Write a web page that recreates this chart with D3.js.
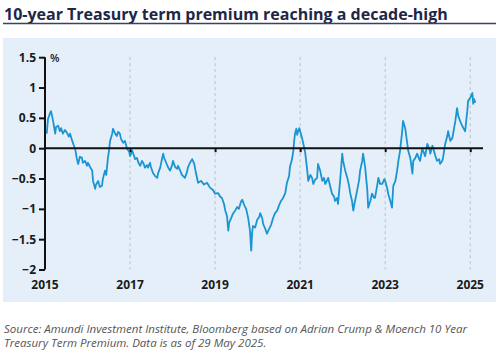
<!DOCTYPE html>
<html>
<head>
<meta charset="utf-8">
<script src="https://cdn.jsdelivr.net/npm/d3@7"></script>
<style>
  body { margin: 0; background: #fff; }
  svg { display: block; font-family: "Open Sans", "Noto Sans", sans-serif; }
</style>
</head>
<body>
<div id="chart"></div>
<script>
// decimal years
const years = [
  2015.04, 2015.07, 2015.12, 2015.14, 2015.16, 2015.19, 2015.24, 2015.26, 2015.31, 2015.35,
  2015.38, 2015.42, 2015.47, 2015.52, 2015.56, 2015.59, 2015.64, 2015.68, 2015.71, 2015.75,
  2015.78, 2015.82, 2015.87, 2015.89, 2015.94, 2015.99, 2016.01, 2016.06, 2016.11, 2016.13,
  2016.18, 2016.20, 2016.25, 2016.29, 2016.34, 2016.36, 2016.41, 2016.44, 2016.48, 2016.51,
  2016.53, 2016.58, 2016.60, 2016.65, 2016.69, 2016.72, 2016.76, 2016.79, 2016.84, 2016.88,
  2016.93, 2016.98, 2017.00, 2017.05, 2017.07, 2017.12, 2017.16, 2017.21, 2017.24, 2017.28,
  2017.31, 2017.35, 2017.40, 2017.42, 2017.47, 2017.49, 2017.54, 2017.59, 2017.64, 2017.66,
  2017.71, 2017.75, 2017.78, 2017.80, 2017.85, 2017.89, 2017.94, 2017.99, 2018.01, 2018.06,
  2018.11, 2018.13, 2018.18, 2018.22, 2018.29, 2018.34, 2018.36, 2018.41, 2018.46, 2018.51,
  2018.55, 2018.60, 2018.67, 2018.74, 2018.81, 2018.88, 2018.95, 2019.00, 2019.07, 2019.12,
  2019.16, 2019.21, 2019.24, 2019.28, 2019.31, 2019.33, 2019.38, 2019.42, 2019.47, 2019.52,
  2019.56, 2019.61, 2019.64, 2019.68, 2019.73, 2019.78, 2019.82, 2019.85, 2019.87, 2019.89,
  2019.94, 2019.99, 2020.04, 2020.06, 2020.11, 2020.13, 2020.18, 2020.22, 2020.27, 2020.32,
  2020.36, 2020.41, 2020.46, 2020.51, 2020.55, 2020.60, 2020.65, 2020.69, 2020.74, 2020.76,
  2020.81, 2020.84, 2020.86, 2020.88, 2020.91, 2020.93, 2020.95, 2020.98, 2021.00, 2021.05,
  2021.07, 2021.12, 2021.16, 2021.19, 2021.24, 2021.28, 2021.31, 2021.35, 2021.40, 2021.42,
  2021.47, 2021.52, 2021.56, 2021.59, 2021.64, 2021.66, 2021.71, 2021.75, 2021.80, 2021.82,
  2021.87, 2021.89, 2021.94, 2021.99, 2022.01, 2022.06, 2022.11, 2022.15, 2022.18, 2022.22,
  2022.25, 2022.29, 2022.34, 2022.39, 2022.41, 2022.46, 2022.48, 2022.53, 2022.58, 2022.60,
  2022.65, 2022.69, 2022.74, 2022.76, 2022.81, 2022.84, 2022.88, 2022.93, 2022.98, 2023.00,
  2023.05, 2023.07, 2023.12, 2023.16, 2023.19, 2023.24, 2023.28, 2023.31, 2023.35, 2023.40,
  2023.42, 2023.47, 2023.52, 2023.54, 2023.59, 2023.64, 2023.66, 2023.71, 2023.75, 2023.80,
  2023.82, 2023.87, 2023.89, 2023.94, 2023.99, 2024.04, 2024.06, 2024.11, 2024.13, 2024.18,
  2024.22, 2024.27, 2024.29, 2024.34, 2024.36, 2024.41, 2024.46, 2024.48, 2024.53, 2024.58,
  2024.62, 2024.65, 2024.69, 2024.72, 2024.76, 2024.81, 2024.84, 2024.88, 2024.91, 2024.93,
  2024.95, 2025.00, 2025.05, 2025.07, 2025.09, 2025.12
];

// term premium, %
const premium = [
  0.24, 0.48, 0.58, 0.61, 0.55, 0.45, 0.24, 0.35, 0.37, 0.28,
  0.33, 0.24, 0.30, 0.25, 0.19, 0.24, 0.12, 0.04, -0.01, -0.18,
  -0.26, -0.14, -0.16, -0.24, -0.21, -0.29, -0.24, -0.31, -0.37, -0.54,
  -0.67, -0.60, -0.54, -0.64, -0.62, -0.51, -0.37, -0.44, -0.16, -0.01,
  0.12, 0.24, 0.32, 0.24, 0.20, 0.27, 0.24, 0.15, 0.09, 0.12,
  -0.01, -0.06, -0.13, -0.04, -0.08, -0.18, -0.16, -0.26, -0.29, -0.21,
  -0.24, -0.32, -0.28, -0.32, -0.24, -0.31, -0.41, -0.46, -0.49, -0.41,
  -0.32, -0.18, -0.09, -0.16, -0.24, -0.31, -0.37, -0.28, -0.21, -0.31,
  -0.34, -0.29, -0.37, -0.44, -0.49, -0.39, -0.32, -0.24, -0.18, -0.26,
  -0.41, -0.57, -0.54, -0.60, -0.57, -0.65, -0.69, -0.75, -0.74, -0.80,
  -0.82, -0.92, -1.03, -1.12, -1.36, -1.23, -1.15, -1.08, -1.03, -0.97,
  -1.00, -0.88, -0.85, -0.93, -1.00, -1.16, -1.36, -1.69, -1.40, -1.28,
  -1.31, -1.18, -1.13, -1.07, -1.16, -1.25, -1.33, -1.41, -1.33, -1.26,
  -1.16, -1.07, -1.03, -0.93, -0.87, -0.82, -0.74, -0.57, -0.46, -0.31,
  -0.18, -0.04, 0.12, 0.24, 0.32, 0.22, 0.27, 0.33, 0.28, 0.15,
  0.09, -0.08, -0.32, -0.54, -0.44, -0.49, -0.59, -0.52, -0.49, -0.26,
  -0.37, -0.54, -0.49, -0.59, -0.52, -0.49, -0.64, -0.75, -0.80, -0.87,
  -0.82, -0.92, -0.54, -0.09, -0.21, -0.37, -0.49, -0.62, -0.75, -0.87,
  -1.03, -0.87, -0.70, -0.51, -0.37, -0.21, -0.09, -0.32, -0.70, -0.98,
  -0.87, -0.75, -0.82, -0.82, -0.62, -0.49, -0.59, -0.59, -0.51, -0.54,
  -0.67, -0.75, -0.87, -0.98, -0.62, -0.54, -0.37, -0.21, -0.04, 0.28,
  0.45, 0.33, 0.07, -0.04, -0.16, -0.42, -0.21, -0.16, -0.09, -0.18,
  -0.21, -0.01, -0.04, -0.13, 0.07, -0.01, -0.09, 0.04, 0.00, -0.13,
  -0.21, -0.18, -0.26, -0.21, -0.16, 0.07, 0.20, 0.28, 0.12, 0.17,
  0.33, 0.45, 0.66, 0.53, 0.45, 0.37, 0.33, 0.28, 0.48, 0.61,
  0.78, 0.83, 0.91, 0.73, 0.81, 0.75
];

const yTicks = [1.5, 1, 0.5, 0, -0.5, -1, -1.5, -2];
const xTicks = [2015, 2017, 2019, 2021, 2023, 2025];

const title = "10-year Treasury term premium reaching a decade-high";
const sourceLines = [
  "Source: Amundi Investment Institute, Bloomberg based on Adrian Crump & Moench 10 Year",
  "Treasury Term Premium. Data is as of 29 May 2025."
];

const width = 500, height = 352;
const svg = d3.select("#chart").append("svg").attr("width", width).attr("height", height);

// title + rule
svg.append("text")
  .attr("x", 4).attr("y", 20)
  .attr("font-size", 16).attr("font-weight", 700)
  .attr("fill", "#1e2748")
  .text(title);
svg.append("line")
  .attr("x1", 3).attr("x2", 496).attr("y1", 23.5).attr("y2", 23.5)
  .attr("stroke", "#3b4160").attr("stroke-width", 1.5);

// panel
svg.append("rect")
  .attr("x", 3).attr("y", 38).attr("width", 493).attr("height", 264)
  .attr("fill", "#e4eff9");

const x = d3.scaleLinear().domain([2015, 2025.3]).range([45, 483]);
const y = d3.scaleLinear().domain([-2, 1.5]).range([269.5, 57.2]);

// dashed year guides
svg.append("g").selectAll("line")
  .data(xTicks.slice(1))
  .join("line")
  .attr("x1", d => x(d)).attr("x2", d => x(d))
  .attr("y1", y(1.5)).attr("y2", y(-2))
  .attr("stroke", "#b9c0c8").attr("stroke-width", 1)
  .attr("stroke-dasharray", "3,3");

// year labels
svg.append("g").selectAll("text")
  .data(xTicks)
  .join("text")
  .attr("x", d => x(d)).attr("y", 289)
  .attr("text-anchor", "middle")
  .attr("font-size", 12).attr("font-weight", 700).attr("fill", "#1a1a1a")
  .text(d => d);

// y axis
const yAxis = svg.append("g")
  .attr("transform", `translate(${x(2015)},0)`)
  .call(d3.axisLeft(y).tickValues(yTicks).tickSize(6).tickPadding(3).tickFormat(d3.format("")));
yAxis.select(".domain").attr("stroke", "#111").attr("stroke-width", 2).attr("d", `M0,${y(1.5)}V${y(-2)}`);
yAxis.selectAll(".tick line").attr("stroke", "#111").attr("stroke-width", 2);
yAxis.selectAll(".tick text")
  .attr("font-size", 12).attr("font-weight", 700).attr("fill", "#1a1a1a")
  .attr("font-family", "'Open Sans', 'Noto Sans', sans-serif");

svg.append("text")
  .attr("x", 50).attr("y", 62)
  .attr("font-size", 11).attr("font-weight", 600).attr("fill", "#1a1a1a")
  .text("%");

// series
const series = years.map((t, i) => ({ t: t, v: premium[i] }));
const line = d3.line().x(d => x(d.t)).y(d => y(d.v));
svg.append("path")
  .datum(series)
  .attr("fill", "none")
  .attr("stroke", "#1b94d2")
  .attr("stroke-width", 1.8)
  .attr("stroke-linejoin", "round")
  .attr("d", line);

// zero line with ticks
const xAxis = svg.append("g")
  .attr("transform", `translate(0,${y(0)})`)
  .call(d3.axisBottom(x).tickValues(xTicks.slice(1)).tickSize(4).tickFormat(""));
xAxis.select(".domain").attr("stroke", "#111").attr("stroke-width", 2).attr("d", `M${x(2015)},0H483`);
xAxis.selectAll(".tick line").attr("stroke", "#111").attr("stroke-width", 2);

// source note
svg.append("g").selectAll("text")
  .data(sourceLines)
  .join("text")
  .attr("x", 4).attr("y", (d, i) => 333 + i * 14)
  .attr("font-size", 11.5).attr("font-style", "italic").attr("fill", "#555")
  .text(d => d);
</script>
</body>
</html>
